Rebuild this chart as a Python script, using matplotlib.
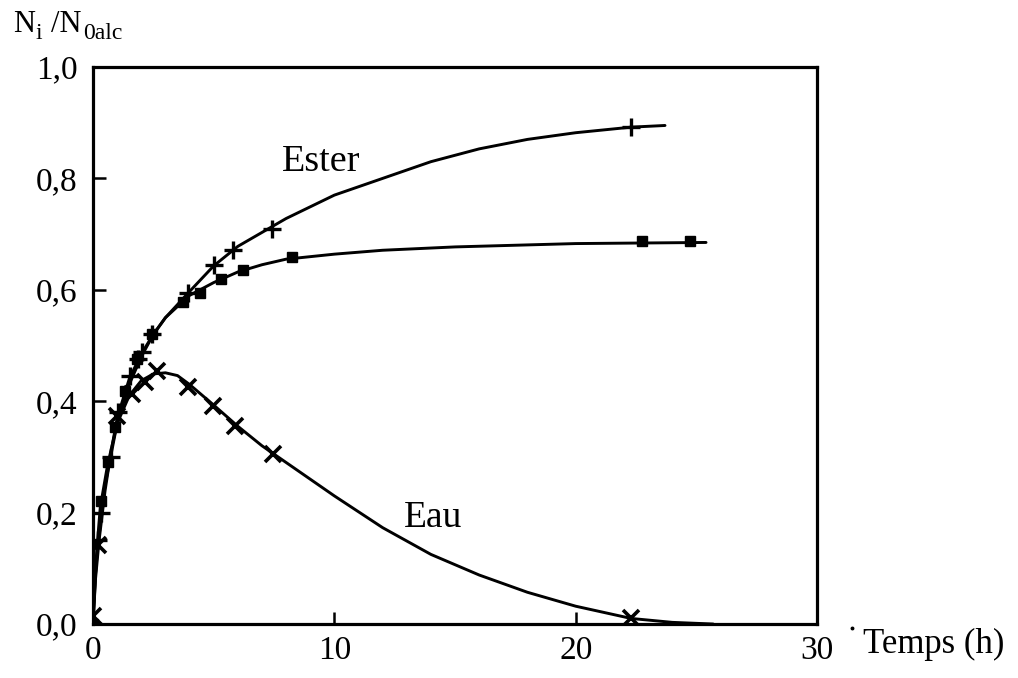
import matplotlib
matplotlib.use("Agg")
import matplotlib.pyplot as plt
from matplotlib.lines import Line2D

plt.rcParams['font.family'] = ['Liberation Serif', 'DejaVu Serif']

# --- measured points ---
ester_x = [0, 0.2, 0.34, 0.75, 1.05, 1.53, 1.88, 2.01, 2.43, 3.95, 5.0, 5.81, 7.4, 22.3]
ester_y = [0, 0.15, 0.20, 0.30, 0.38, 0.446, 0.476, 0.488, 0.521, 0.595, 0.645, 0.671, 0.71, 0.892]

sq_x = [0, 0.32, 0.62, 0.91, 1.33, 1.84, 2.43, 3.74, 4.43, 5.29, 6.23, 8.23, 22.74, 24.74]
sq_y = [0, 0.22, 0.29, 0.353, 0.419, 0.476, 0.521, 0.578, 0.595, 0.62, 0.635, 0.659, 0.687, 0.687]

eau_x = [0, 0.21, 0.98, 1.6, 2.15, 2.64, 3.95, 4.99, 5.88, 7.47, 22.3]
eau_y = [0.015, 0.142, 0.374, 0.413, 0.434, 0.455, 0.425, 0.392, 0.356, 0.305, 0.01]

# --- fitted curves ---
ester_cx = [0, 0.1, 0.25, 0.5, 0.75, 1, 1.5, 2, 2.5, 3, 4, 5, 6, 7, 8, 10, 12, 14, 16, 18, 20, 22.3, 23.7]
ester_cy = [0, 0.08, 0.15, 0.24, 0.31, 0.37, 0.44, 0.485, 0.52, 0.55, 0.597, 0.643, 0.678, 0.703, 0.728,
            0.77, 0.80, 0.83, 0.853, 0.87, 0.882, 0.892, 0.895]

sq_cx = [0, 0.15, 0.3, 0.6, 1, 1.5, 2, 2.5, 3, 4, 5, 6, 7, 8, 10, 12, 15, 20, 25.4]
sq_cy = [0, 0.13, 0.21, 0.285, 0.36, 0.43, 0.48, 0.52, 0.55, 0.59, 0.613, 0.632, 0.645, 0.655,
         0.664, 0.671, 0.677, 0.683, 0.685]

eau_cx = [0, 0.1, 0.2, 0.5, 1, 1.5, 2, 2.5, 3, 3.5, 4, 5, 6, 7, 8, 10, 12, 14, 16, 18, 20, 22.3, 24, 25.7]
eau_cy = [0.015, 0.09, 0.14, 0.25, 0.36, 0.41, 0.437, 0.449, 0.451, 0.446, 0.43, 0.393, 0.355, 0.32,
          0.29, 0.23, 0.173, 0.125, 0.088, 0.057, 0.032, 0.01, 0.003, 0.0]

x_ticks = [0, 10, 20, 30]
y_ticks = [0.0, 0.2, 0.4, 0.6, 0.8, 1.0]
y_tick_labels = ['0,0', '0,2', '0,4', '0,6', '0,8', '1,0']

W, H = 1018, 678
fig = plt.figure(figsize=(W / 100, H / 100), dpi=100)
ax = fig.add_axes([0.0914, 0.0796, 0.7112, 0.8216])

lw = 2.1
for cx, cy in [(ester_cx, ester_cy), (sq_cx, sq_cy), (eau_cx, eau_cy)]:
    ax.plot(cx, cy, color='black', lw=lw, solid_capstyle='round', solid_joinstyle='round', zorder=2)

ax.plot(ester_x, ester_y, ls='none', marker='+', ms=13, mew=2.4, color='black', zorder=3)
ax.plot(sq_x, sq_y, ls='none', marker='s', ms=7, color='black', zorder=3)
ax.plot(eau_x, eau_y, ls='none', marker='x', ms=11, mew=2.6, color='black', zorder=3)
ax.plot([0], [0], ls='none', marker='D', ms=8, color='black', zorder=4)

ax.set_xlim(0, 30)
ax.set_ylim(0, 1.0)
ax.set_xticks(x_ticks)
ax.set_xticklabels([str(t) for t in x_ticks])
ax.set_yticks(y_ticks)
ax.set_yticklabels(y_tick_labels)
ax.tick_params(direction='in', length=9, width=1.8, labelsize=24, colors='black')
ax.tick_params(axis='x', pad=8)
ax.tick_params(axis='y', pad=11)
for s in ax.spines.values():
    s.set_linewidth(2.3)
    s.set_color('black')

ax.text(9.47, 0.813, 'Ester', fontsize=27.5, ha='center', va='baseline')
ax.text(14.07, 0.175, 'Eau', fontsize=27, ha='center', va='baseline')

def px(x, y):
    return x / W, 1 - y / H

# y-axis title: N_i /N_0alc
fig.text(*px(13, 32), 'N', fontsize=22, ha='left', va='baseline')
fig.text(*px(35, 39), 'i', fontsize=17, ha='left', va='baseline')
fig.text(*px(51, 32), '/N', fontsize=22, ha='left', va='baseline')
fig.text(*px(83, 39), '0alc', fontsize=17, ha='left', va='baseline')

fig.text(*px(863, 653), 'Temps (h)', fontsize=25, ha='left', va='baseline')
fig.add_artist(Line2D([852 / W], [1 - 628 / H], marker='o', ms=1.8, color='black', ls='none'))

fig.savefig('out.png', dpi=100)
